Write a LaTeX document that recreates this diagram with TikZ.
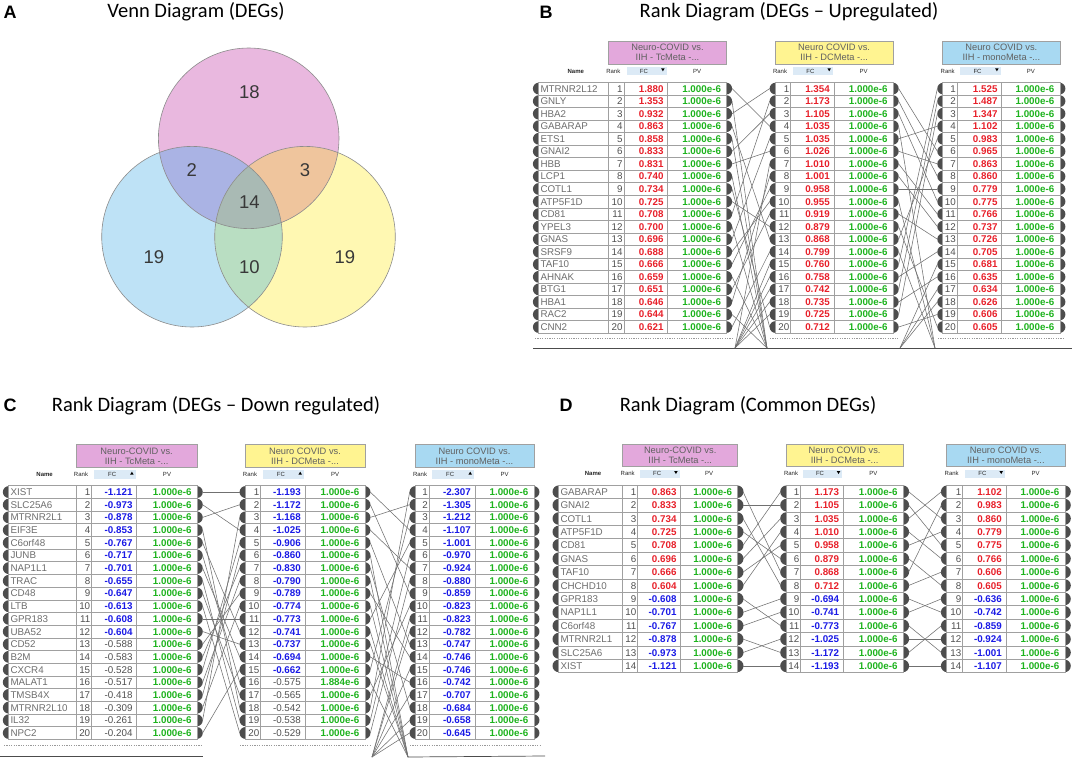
\documentclass[tikz,border=0pt]{standalone}
\usepackage{fontspec}
\setmainfont{Liberation Sans}
\newfontfamily\ttlfont{Carlito}
\definecolor{scalc}{HTML}{4D4D4D}
\definecolor{cellc}{HTML}{A0A0A0}
\definecolor{fcr}{HTML}{E8202A}
\definecolor{fcb}{HTML}{1A1AE6}
\definecolor{fcg}{HTML}{505050}
\definecolor{pvgc}{HTML}{1DB31D}
\definecolor{nmcol}{HTML}{6E6E6E}
\definecolor{rkcol}{HTML}{505050}
\definecolor{conncol}{HTML}{707070}
\definecolor{hpink}{HTML}{E3A8DC}
\definecolor{hyel}{HTML}{FFF491}
\definecolor{hblue}{HTML}{A8D9F2}
\definecolor{hbord}{HTML}{A0A0A0}
\definecolor{fcbgc}{HTML}{DCEAF6}
\definecolor{vpink}{HTML}{E9B8DF}
\definecolor{vblue}{HTML}{BEE2F6}
\definecolor{vyel}{HTML}{FFF8B2}
\definecolor{vpb}{HTML}{AAB3E4}
\definecolor{vpy}{HTML}{EFC59D}
\definecolor{vby}{HTML}{B9DEC2}
\definecolor{vall}{HTML}{A9BAB4}
\definecolor{vline}{HTML}{8C8C8C}
\newcommand\tfs{\fontsize{9.8}{10}\selectfont}
\newcommand\chfs{\fontsize{6}{6}\selectfont}
\newcommand\fcwr{\bfseries}
\newcommand\fcwb{\bfseries}
\newcommand\fcwg{\mdseries}
\tikzset{
  scal/.style={fill=scalc},
  cell/.style={draw=cellc,fill=white,line width=0.6pt},
  nmtxt/.style={anchor=base west,inner sep=0pt,text=nmcol,font=\tfs},
  rktxt/.style={anchor=base east,inner sep=0pt,text=rkcol,font=\tfs},
  fctxt/.style={anchor=base east,inner sep=0pt},
  pvtxt/.style={anchor=base east,inner sep=0pt,text=pvgc,font=\tfs\bfseries},
  hbox/.style={draw=hbord,line width=0.6pt},
  htxt/.style={inner sep=0pt,align=center,text=black!62,font=\fontsize{9.3}{9.7}\selectfont},
  chtxt/.style={anchor=base,inner sep=0pt,text=black!85,font=\chfs},
  fcbg/.style={fill=fcbgc},
  conn/.style={draw=conncol,line width=0.55pt},
  botline/.style={draw=black!70,line width=0.7pt},
  dotline/.style={draw=black!40,line width=0.6pt,dash pattern=on 1.2pt off 1.2pt},
  ttl/.style={inner sep=0pt,font=\ttlfont\fontsize{20.5}{22}\selectfont},
  letter/.style={inner sep=0pt,font=\bfseries\fontsize{18}{18}\selectfont},
  vnum/.style={inner sep=0pt,text=black!78,font=\fontsize{18.5}{18.5}\selectfont},
  vcirc/.style={draw=vline,line width=0.6pt}
}
% table: #1 prefix #2 nameleft #3 rankleft #4 fcleft #5 pvleft #6 right #7 top #8 rowh #9 data
\newcommand\rktab[9]{%
  \foreach \nm/\fv/\fst/\pv [count=\i] in {#9}{%
    \pgfmathsetmacro\yc{#7+(\i-0.5)*#8}%
    \pgfmathsetmacro\rr{0.47*#8}%
    \fill[scal] (#2+0.5,\yc) circle[radius=\rr pt];
    \fill[scal] (#6-0.5,\yc) circle[radius=\rr pt];
    \coordinate (#1L\i) at (#2-5.3,\yc);
    \coordinate (#1R\i) at (#6+5.3,\yc);
  }%
  \foreach \nm/\fv/\fst/\pv [count=\i] in {#9}{%
    \pgfmathsetmacro\yt{#7+(\i-1)*#8}%
    \pgfmathsetmacro\yb{#7+\i*#8}%
    \pgfmathsetmacro\yl{#7+(\i-0.5)*#8+3.5}%
    \ifdim #2pt<#3pt
      \draw[cell] (#2,\yt) rectangle (#3,\yb);
      \node[nmtxt] (#1n\i) at (#2+2,\yl) {\nm};
    \fi
    \draw[cell] (#3,\yt) rectangle (#4,\yb);
    \draw[cell] (#4,\yt) rectangle (#5,\yb);
    \draw[cell] (#5,\yt) rectangle (#6,\yb);
    \node[rktxt] (#1k\i) at (#4-1.3,\yl) {\i};
    \node[fctxt,text=fc\fst,font=\tfs\csname fcw\fst\endcsname] (#1f\i) at (#5-4,\yl) {\fv};
    \node[pvtxt] (#1p\i) at (#6-5.5,\yl) {\pv};
  }%
}
% header: #1 prefix #2 nameleft #3 rankleft #4 fcleft #5 pvleft #6 right #7 table top #8 colour #9 text
\newif\ifarrdown
\newcommand\rkhead[9]{%
  \draw[hbox,fill=#8] (#3,#7-41) rectangle (#6,#7-18.5);
  \node[htxt] (#1h) at ({(#3+#6)/2},#7-29.75) {#9};
  \ifdim #2pt<#3pt
    \node[chtxt,font=\chfs\bfseries] (#1cn) at ({(#2+#3)/2+2.5},#7-9.3) {Name};
  \fi
  \node[chtxt] (#1cr) at (#3+5,#7-9.3) {Rank};
  \fill[fcbg] (#4+2.7,#7-15.5) rectangle (#5-1,#7-7);
  \node[chtxt] (#1cf) at ({(#4+#5)/2-2},#7-9.3) {FC};
  \ifarrdown
    \fill[black] (#5-6.6,#7-14) -- (#5-3,#7-14) -- (#5-4.8,#7-11) -- cycle;
  \else
    \fill[black] (#5-6.6,#7-11) -- (#5-3,#7-11) -- (#5-4.8,#7-14) -- cycle;
  \fi
  \node[chtxt] (#1cp) at ({(#5+#6)/2},#7-9.3) {PV};
}
\begin{document}
\begin{tikzpicture}[x=1pt,y=-1pt]
\useasboundingbox (0,0) rectangle (1072,758);
\fill[white] (0,0) rectangle (1072,758);
% ---------------- A: Venn
\node[letter] (la) at (10,12.5) {A};
\node[ttl] (ta) at (196,12) {Venn Diagram (DEGs)};
\coordinate (vP) at (248.7,138.3);
\coordinate (vB) at (192,236.7);
\coordinate (vY) at (305,236.7);
\fill[vblue] (vB) circle[radius=90.3pt];
\fill[vyel] (vY) circle[radius=90.3pt];
\fill[vpink] (vP) circle[radius=90.3pt];
\begin{scope}\clip (vP) circle[radius=90.3pt]; \fill[vpb] (vB) circle[radius=90.3pt];\end{scope}
\begin{scope}\clip (vP) circle[radius=90.3pt]; \fill[vpy] (vY) circle[radius=90.3pt];\end{scope}
\begin{scope}\clip (vB) circle[radius=90.3pt]; \fill[vby] (vY) circle[radius=90.3pt];\end{scope}
\begin{scope}\clip (vP) circle[radius=90.3pt]; \clip (vB) circle[radius=90.3pt]; \fill[vall] (vY) circle[radius=90.3pt];\end{scope}
\draw[vcirc] (vP) circle[radius=90.3pt];
\draw[vcirc] (vB) circle[radius=90.3pt];
\draw[vcirc] (vY) circle[radius=90.3pt];
\node[vnum] (n18) at (249.3,91.7) {18};
\node[vnum] (n2) at (191.7,170) {2};
\node[vnum] (n3) at (305,170) {3};
\node[vnum] (n14) at (249.3,201.7) {14};
\node[vnum] (n19a) at (154,257.3) {19};
\node[vnum] (n10) at (249.3,266.7) {10};
\node[vnum] (n19b) at (345,257.3) {19};
% ---------------- B: Up
\node[letter] (lb) at (546,12.5) {B};
\node[ttl] (tb) at (789,12) {Rank Diagram (DEGs – Upregulated)};
\arrdowntrue
\rkhead{Bt}{538.3}{608.3}{624}{667.7}{726.7}{82.3}{hpink}{Neuro-COVID vs.\\IIH - TcMeta -...}
\rkhead{Bd}{775}{775}{790.7}{834}{893.3}{82.3}{hyel}{Neuro COVID vs.\\IIH - DCMeta -...}
\rkhead{Bm}{942.7}{942.7}{957.3}{1001.7}{1060}{82.3}{hblue}{Neuro COVID vs.\\IIH - monoMeta -...}
\rktab{Bt}{538.3}{608.3}{624}{667.7}{726.7}{82.3}{12.55}{MTRNR2L12/1.880/r/1.000e-6,GNLY/1.353/r/1.000e-6,HBA2/0.932/r/1.000e-6,GABARAP/0.863/r/1.000e-6,ETS1/0.858/r/1.000e-6,GNAI2/0.833/r/1.000e-6,HBB/0.831/r/1.000e-6,LCP1/0.740/r/1.000e-6,COTL1/0.734/r/1.000e-6,ATP5F1D/0.725/r/1.000e-6,CD81/0.708/r/1.000e-6,YPEL3/0.700/r/1.000e-6,GNAS/0.696/r/1.000e-6,SRSF9/0.688/r/1.000e-6,TAF10/0.666/r/1.000e-6,AHNAK/0.659/r/1.000e-6,BTG1/0.651/r/1.000e-6,HBA1/0.646/r/1.000e-6,RAC2/0.644/r/1.000e-6,CNN2/0.621/r/1.000e-6}
\rktab{Bd}{775}{775}{790.7}{834}{893.3}{82.3}{12.55}{-/1.354/r/1.000e-6,-/1.173/r/1.000e-6,-/1.105/r/1.000e-6,-/1.035/r/1.000e-6,-/1.035/r/1.000e-6,-/1.026/r/1.000e-6,-/1.010/r/1.000e-6,-/1.001/r/1.000e-6,-/0.958/r/1.000e-6,-/0.955/r/1.000e-6,-/0.919/r/1.000e-6,-/0.879/r/1.000e-6,-/0.868/r/1.000e-6,-/0.799/r/1.000e-6,-/0.760/r/1.000e-6,-/0.758/r/1.000e-6,-/0.742/r/1.000e-6,-/0.735/r/1.000e-6,-/0.725/r/1.000e-6,-/0.712/r/1.000e-6}
\rktab{Bm}{942.7}{942.7}{957.3}{1001.7}{1060}{82.3}{12.55}{-/1.525/r/1.000e-6,-/1.487/r/1.000e-6,-/1.347/r/1.000e-6,-/1.102/r/1.000e-6,-/0.983/r/1.000e-6,-/0.965/r/1.000e-6,-/0.863/r/1.000e-6,-/0.860/r/1.000e-6,-/0.779/r/1.000e-6,-/0.775/r/1.000e-6,-/0.766/r/1.000e-6,-/0.737/r/1.000e-6,-/0.726/r/1.000e-6,-/0.705/r/1.000e-6,-/0.681/r/1.000e-6,-/0.635/r/1.000e-6,-/0.634/r/1.000e-6,-/0.626/r/1.000e-6,-/0.606/r/1.000e-6,-/0.605/r/1.000e-6}
\draw[dotline] (535,338.3) -- (733,338.3);
\draw[dotline] (770,338.3) -- (899,338.3);
\draw[dotline] (938,338.3) -- (1065,338.3);
\coordinate (Bg1a) at (735,348);
\coordinate (Bg1b) at (767,348);
\coordinate (Bg2a) at (900,348);
\coordinate (Bg2b) at (935,348);
\coordinate (Bbl0) at (533,348);
\coordinate (Bbl1) at (1072,348);
\draw[botline] (Bbl0) -- (Bbl1);
\foreach \a/\b in {1/4,3/1,4/13,6/3,7/6,9/20,10/12,11/2,13/5,14/10,15/9,17/11,18/8,20/14}
  \draw[conn] (BtR\a) -- (BdL\b);
\foreach \a in {2,5,8,12,16,19} \draw[conn] (BtR\a) -- (Bg1b);
\foreach \b in {7,15,16,17,18,19} \draw[conn] (Bg1a) -- (BdL\b);
\foreach \a/\b in {1/6,2/8,3/10,5/4,6/7,7/11,8/12,9/9,11/13,12/20,13/5,15/1,16/14,17/2,18/16,19/3,20/19}
  \draw[conn] (BdR\a) -- (BmL\b);
\foreach \a in {4,10,14} \draw[conn] (BdR\a) -- (Bg2b);
\foreach \b in {15,17,18} \draw[conn] (Bg2a) -- (BmL\b);
% ---------------- C: Down
\node[letter] (lc) at (10,405.5) {C};
\node[ttl] (tc) at (216,406) {Rank Diagram (DEGs – Down regulated)};
\arrdownfalse
\rkhead{Ct}{8.3}{76}{91.7}{136.7}{197.3}{485.7}{hpink}{Neuro-COVID vs.\\IIH - TcMeta -...}
\rkhead{Cd}{245}{245}{260.7}{305}{365}{485.7}{hyel}{Neuro COVID vs.\\IIH - DCMeta -...}
\rkhead{Cm}{415}{415}{429.3}{475}{534}{485.7}{hblue}{Neuro COVID vs.\\IIH - monoMeta -...}
\rktab{Ct}{8.3}{76}{91.7}{136.7}{197.3}{485.7}{12.68}{XIST/-1.121/b/1.000e-6,SLC25A6/-0.973/b/1.000e-6,MTRNR2L1/-0.878/b/1.000e-6,EIF3E/-0.853/b/1.000e-6,C6orf48/-0.767/b/1.000e-6,JUNB/-0.717/b/1.000e-6,NAP1L1/-0.701/b/1.000e-6,TRAC/-0.655/b/1.000e-6,CD48/-0.647/b/1.000e-6,LTB/-0.613/b/1.000e-6,GPR183/-0.608/b/1.000e-6,UBA52/-0.604/b/1.000e-6,CD52/-0.588/g/1.000e-6,B2M/-0.583/g/1.000e-6,CXCR4/-0.528/g/1.000e-6,MALAT1/-0.517/g/1.000e-6,TMSB4X/-0.418/g/1.000e-6,MTRNR2L10/-0.309/g/1.000e-6,IL32/-0.261/g/1.000e-6,NPC2/-0.204/g/1.000e-6}
\rktab{Cd}{245}{245}{260.7}{305}{365}{485.7}{12.68}{-/-1.193/b/1.000e-6,-/-1.172/b/1.000e-6,-/-1.168/b/1.000e-6,-/-1.025/b/1.000e-6,-/-0.906/b/1.000e-6,-/-0.860/b/1.000e-6,-/-0.830/b/1.000e-6,-/-0.790/b/1.000e-6,-/-0.789/b/1.000e-6,-/-0.774/b/1.000e-6,-/-0.773/b/1.000e-6,-/-0.741/b/1.000e-6,-/-0.737/b/1.000e-6,-/-0.694/b/1.000e-6,-/-0.662/b/1.000e-6,-/-0.575/g/1.884e-6,-/-0.565/g/1.000e-6,-/-0.542/g/1.000e-6,-/-0.538/g/1.000e-6,-/-0.529/g/1.000e-6}
\rktab{Cm}{415}{415}{429.3}{475}{534}{485.7}{12.68}{-/-2.307/b/1.000e-6,-/-1.305/b/1.000e-6,-/-1.212/b/1.000e-6,-/-1.107/b/1.000e-6,-/-1.001/b/1.000e-6,-/-0.970/b/1.000e-6,-/-0.924/b/1.000e-6,-/-0.880/b/1.000e-6,-/-0.859/b/1.000e-6,-/-0.823/b/1.000e-6,-/-0.823/b/1.000e-6,-/-0.782/b/1.000e-6,-/-0.747/b/1.000e-6,-/-0.746/b/1.000e-6,-/-0.746/b/1.000e-6,-/-0.742/b/1.000e-6,-/-0.707/b/1.000e-6,-/-0.684/b/1.000e-6,-/-0.658/b/1.000e-6,-/-0.645/b/1.000e-6}
\draw[dotline] (4,745) -- (203,745);
\draw[dotline] (240,745) -- (371,745);
\draw[dotline] (410,745) -- (540,745);
\coordinate (Cg2a) at (372,757);
\coordinate (Cg2b) at (408,757);
\coordinate (Cbl0) at (0,756);
\coordinate (Cbl1) at (203,756);
\coordinate (Cbl2) at (545,756);
\draw[botline] (Cbl0) -- (Cbl1);
\draw[botline] (Cg2b) -- (Cbl2);
\foreach \a/\b in {1/1,2/4,3/2,4/18,5/12,6/16,7/14,8/19,9/17,10/20,11/11,12/13,13/9,14/7,15/5,16/8,17/6,18/10,19/3,20/15}
  \draw[conn] (CtR\a) -- (CdL\b);
\foreach \a/\b in {1/4,2/9,3/2,4/7,5/13,7/18,9/14,11/5,14/16,15/3,17/10,18/1,19/6,20/8}
  \draw[conn] (CdR\a) -- (CmL\b);
\foreach \a in {6,8,10,12,13,16} \draw[conn] (CdR\a) -- (Cg2b);
\foreach \b in {11,12,15,17,19,20} \draw[conn] (Cg2a) -- (CmL\b);
% ---------------- D: Common
\node[letter] (ld) at (566,405.5) {D};
\node[ttl] (td) at (748,406) {Rank Diagram (Common DEGs)};
\arrdowntrue
\rkhead{Dt}{558.3}{622.7}{637.7}{680.7}{737.7}{485}{hpink}{Neuro-COVID vs.\\IIH - TcMeta -...}
\rkhead{Dd}{786}{786}{800.7}{843.3}{903.3}{485}{hyel}{Neuro COVID vs.\\IIH - DCMeta -...}
\rkhead{Dm}{946.7}{946.7}{962.7}{1006}{1065}{485}{hblue}{Neuro COVID vs.\\IIH - monoMeta -...}
\rktab{Dt}{558.3}{622.7}{637.7}{680.7}{737.7}{485}{13.4}{GABARAP/0.863/r/1.000e-6,GNAI2/0.833/r/1.000e-6,COTL1/0.734/r/1.000e-6,ATP5F1D/0.725/r/1.000e-6,CD81/0.708/r/1.000e-6,GNAS/0.696/r/1.000e-6,TAF10/0.666/r/1.000e-6,CHCHD10/0.604/r/1.000e-6,GPR183/-0.608/b/1.000e-6,NAP1L1/-0.701/b/1.000e-6,C6orf48/-0.767/b/1.000e-6,MTRNR2L1/-0.878/b/1.000e-6,SLC25A6/-0.973/b/1.000e-6,XIST/-1.121/b/1.000e-6}
\rktab{Dd}{786}{786}{800.7}{843.3}{903.3}{485}{13.4}{-/1.173/r/1.000e-6,-/1.105/r/1.000e-6,-/1.035/r/1.000e-6,-/1.010/r/1.000e-6,-/0.958/r/1.000e-6,-/0.879/r/1.000e-6,-/0.868/r/1.000e-6,-/0.712/r/1.000e-6,-/-0.694/b/1.000e-6,-/-0.741/b/1.000e-6,-/-0.773/b/1.000e-6,-/-1.025/b/1.000e-6,-/-1.172/b/1.000e-6,-/-1.193/b/1.000e-6}
\rktab{Dm}{946.7}{946.7}{962.7}{1006}{1065}{485}{13.4}{-/1.102/r/1.000e-6,-/0.983/r/1.000e-6,-/0.860/r/1.000e-6,-/0.779/r/1.000e-6,-/0.775/r/1.000e-6,-/0.766/r/1.000e-6,-/0.606/r/1.000e-6,-/0.605/r/1.000e-6,-/-0.636/b/1.000e-6,-/-0.742/b/1.000e-6,-/-0.859/b/1.000e-6,-/-0.924/b/1.000e-6,-/-1.001/b/1.000e-6,-/-1.107/b/1.000e-6}
\foreach \a/\b in {1/7,2/2,3/8,4/6,5/1,6/3,7/5,8/4,9/11,10/9,11/10,12/13,13/12,14/14}
  \draw[conn] (DtR\a) -- (DdL\b);
\foreach \a/\b in {1/3,2/5,3/1,4/6,5/4,6/8,7/2,8/7,9/10,10/9,11/13,12/12,13/11,14/14}
  \draw[conn] (DdR\a) -- (DmL\b);
\end{tikzpicture}
\end{document}
